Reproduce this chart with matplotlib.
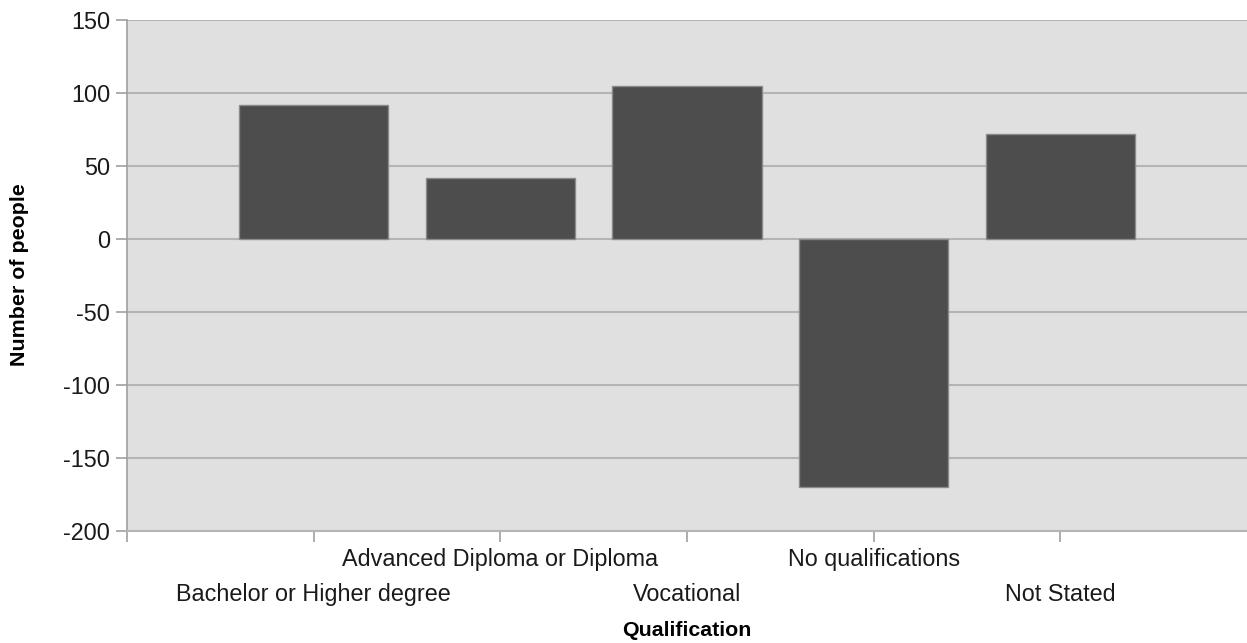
import matplotlib
matplotlib.use("Agg")
import matplotlib.pyplot as plt

categories = ["Bachelor or Higher degree", "Advanced Diploma or Diploma",
              "Vocational", "No qualifications", "Not Stated"]
values = [92, 42, 105, -170, 72]
y_ticks = [-200, -150, -100, -50, 0, 50, 100, 150]

plt.rcParams['font.family'] = ['Liberation Sans', 'DejaVu Sans']

fig = plt.figure(figsize=(12.47, 6.43), dpi=100)
ax = fig.add_axes([127/1247, 1-531/643, 1-127/1247, (531-20)/643])
ax.set_facecolor('#e0e0e0')

x = list(range(len(categories)))
ax.bar(x, values, width=0.8, color='#4d4d4d', edgecolor='#8a8a8a', linewidth=1.0, zorder=3)

ax.set_xlim(-1, len(categories))
ax.set_ylim(-200, 150)
ax.set_yticks(y_ticks)
ax.set_yticklabels([str(v) for v in y_ticks], fontsize=16.8, color='#1a1a1a')
ax.yaxis.grid(True, color='#b4b4b4', linewidth=1.5, zorder=1)
ax.set_axisbelow(True)

# ticks at left edge and at each category centre
ax.set_xticks([-1] + x)
ax.set_xticklabels([])
ax.tick_params(axis='x', direction='out', length=8, color='#a0a0a0', width=1.2)
ax.tick_params(axis='y', direction='out', length=8, color='#a0a0a0', width=1.2, pad=4)

for i, lab in enumerate(categories):
    off = -43.9 if i % 2 == 0 else -18.7
    ax.annotate(lab, xy=(i, -200), xycoords='data', xytext=(0, off),
                textcoords='offset points', ha='center', va='center_baseline',
                fontsize=16.8, color='#1a1a1a')

for s in ['top', 'right']:
    ax.spines[s].set_visible(False)
ax.spines['left'].set_color('#a0a0a0')
ax.spines['left'].set_linewidth(1.2)
ax.spines['bottom'].set_color('#b4b4b4')
ax.spines['bottom'].set_linewidth(1.5)

fig.text(687/1247, 1-631/643, "Qualification", ha='center', va='center',
         fontsize=15.4, fontweight='bold')
fig.text(20/1247, 1-275/643, "Number of people", ha='center', va='center',
         rotation=90, fontsize=15.4, fontweight='bold')

fig.savefig("out.png", dpi=100)
